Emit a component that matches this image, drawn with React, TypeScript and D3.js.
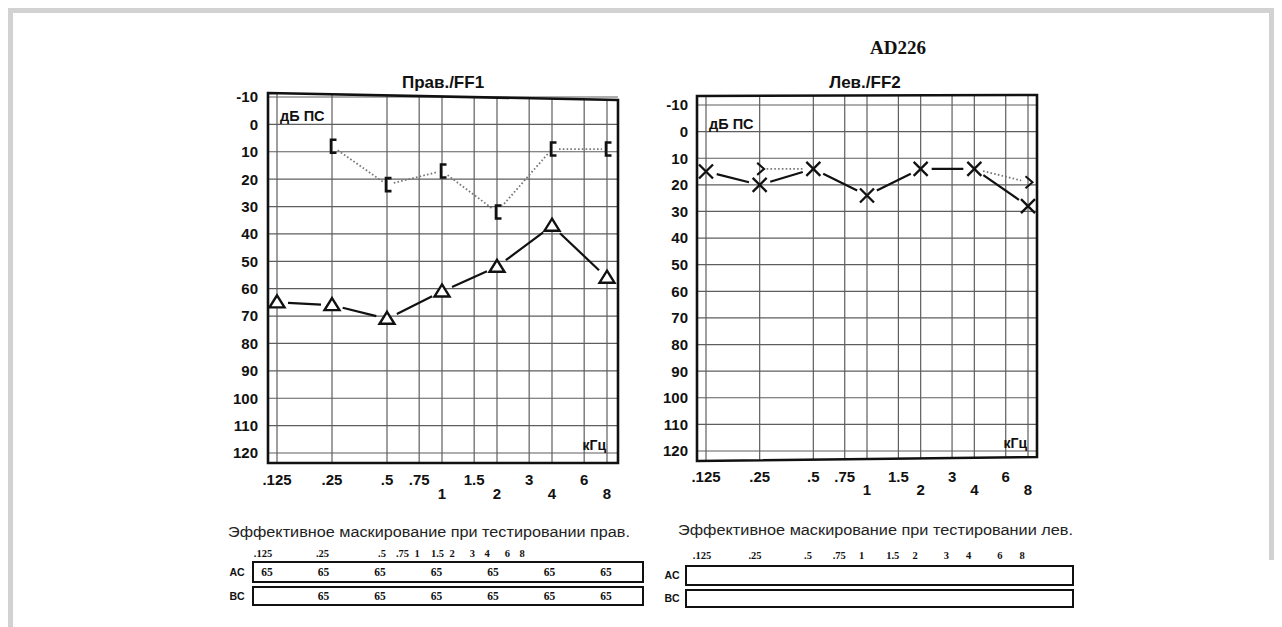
import React from "react";
import * as d3 from "d3";

// ---------- data ----------
const FREQS = [0.125, 0.25, 0.5, 0.75, 1, 1.5, 2, 3, 4, 6, 8];
const FREQ_LABELS = [".125", ".25", ".5", ".75", "1", "1.5", "2", "3", "4", "6", "8"];
const LOWER_ROW_LABELS = ["1", "2", "4", "8"];
const DB_TICKS = [-10, 0, 10, 20, 30, 40, 50, 60, 70, 80, 90, 100, 110, 120];

// Right ear (Прав./FF1)
const RIGHT_AC_FREQS = [0.125, 0.25, 0.5, 1, 2, 4, 8];
const RIGHT_AC_DB = [65, 66, 71, 61, 52, 37, 56];
const RIGHT_BC_FREQS = [0.25, 0.5, 1, 2, 4, 8];
const RIGHT_BC_DB = [8, 22, 17, 32, 9, 9];

// Left ear (Лев./FF2)
const LEFT_AC_FREQS = [0.125, 0.25, 0.5, 1, 2, 4, 8];
const LEFT_AC_DB = [15, 20, 14, 24, 14, 14, 28];
const LEFT_BC_FREQS = [0.25, 0.5, 1, 2, 4, 8];
const LEFT_BC_DB = [14, 14, 24, 14, 14, 19];

// Masking tables
const MASK_FREQS = [0.125, 0.25, 0.5, 1, 2, 4, 8];
const MASK_RIGHT_AC: (number | null)[] = [65, 65, 65, 65, 65, 65, 65];
const MASK_RIGHT_BC: (number | null)[] = [null, 65, 65, 65, 65, 65, 65];
const MASK_LEFT_AC: (number | null)[] = [null, null, null, null, null, null, null];
const MASK_LEFT_BC: (number | null)[] = [null, null, null, null, null, null, null];

const TITLE = "AD226";
const RIGHT_TITLE = "Прав./FF1";
const LEFT_TITLE = "Лев./FF2";
const RIGHT_MASK_TITLE = "Эффективное маскирование при тестировании прав.";
const LEFT_MASK_TITLE = "Эффективное маскирование при тестировании лев.";

// ---------- layout ----------
type Layout = {
  gx0: number; gx1: number; gy0: number; gy1: number;
  fl: number; fr: number; ftl: number; ftr: number; fbl: number; fbr: number;
  titleX: number; titleY: number; labelRight: number; tickY1: number; tickY2: number;
};

const RIGHT_LAYOUT: Layout = {
  gx0: 277, gx1: 607, gy0: 97, gy1: 453,
  fl: 268, fr: 618, ftl: 93, ftr: 100, fbl: 463, fbr: 463,
  titleX: 443, titleY: 82, labelRight: 258, tickY1: 480, tickY2: 494,
};
const LEFT_LAYOUT: Layout = {
  gx0: 706, gx1: 1028, gy0: 105, gy1: 451,
  fl: 697, fr: 1037, ftl: 96, ftr: 95, fbl: 461, fbr: 457,
  titleX: 865, titleY: 82, labelRight: 688, tickY1: 477, tickY2: 490,
};

type TableLayout = {
  textX: number; textW: number; textY: number;
  labX0: number; labXmid: number; labX1: number; labY: number;
  valX0: number; valX1: number;
  boxL: number; boxR: number; acT: number; acB: number; bcT: number; bcB: number;
  acLabelX: number;
};
const RIGHT_TABLE: TableLayout = {
  textX: 228, textW: 402, textY: 532,
  labX0: 263, labXmid: 382, labX1: 522, labY: 553,
  valX0: 267, valX1: 606,
  boxL: 253, boxR: 643, acT: 562, acB: 582, bcT: 587, bcB: 605,
  acLabelX: 237,
};
const LEFT_TABLE: TableLayout = {
  textX: 678, textW: 395, textY: 530,
  labX0: 702, labXmid: 808, labX1: 1022, labY: 555,
  valX0: 712, valX1: 1040,
  boxL: 686, boxR: 1073, acT: 566, acB: 585, bcT: 590, bcB: 607,
  acLabelX: 672,
};

const SANS = "'Liberation Sans', Arial, sans-serif";
const SERIF = "'Liberation Serif', 'Times New Roman', serif";

type Pt = { x: number; y: number };

function gapSegments(pts: Pt[], g0: number, g1: number) {
  const segs: string[] = [];
  for (let i = 0; i < pts.length - 1; i++) {
    const a = pts[i], b = pts[i + 1];
    const dx = b.x - a.x, dy = b.y - a.y;
    const len = Math.hypot(dx, dy);
    if (len <= g0 + g1) continue;
    const ux = dx / len, uy = dy / len;
    segs.push(`M${a.x + ux * g0},${a.y + uy * g0}L${b.x - ux * g1},${b.y - uy * g1}`);
  }
  return segs;
}

const TRI = "M0,-7L7.5,5L-7.5,5Z";
const XM = "M-7,-7L7,7M7,-7L-7,7";
const BRACKET = "M4.5,-6.5L-1,-6.5L-1,6.5L4.5,6.5";
const GT = "M-3.5,-6L3.5,0L-3.5,6";

function Audiogram({ L, title, ear }: { L: Layout; title: string; ear: "right" | "left" }) {
  const x = d3.scaleLog().base(2).domain([0.125, 8]).range([L.gx0, L.gx1]);
  const y = d3.scaleLinear().domain([-10, 120]).range([L.gy0, L.gy1]);
  const topAt = (px: number) => L.ftl + ((px - L.fl) / (L.fr - L.fl)) * (L.ftr - L.ftl);
  const botAt = (px: number) => L.fbl + ((px - L.fl) / (L.fr - L.fl)) * (L.fbr - L.fbl);
  const frame = `M${L.fl},${L.ftl}L${L.fr},${L.ftr}L${L.fr},${L.fbr}L${L.fl},${L.fbl}Z`;

  const grid = (
    <g stroke="#5e5e5e" strokeWidth={1.2} fill="none">
      {FREQS.map((f) => (
        <line key={"v" + f} x1={x(f)} x2={x(f)} y1={topAt(x(f))} y2={botAt(x(f))} />
      ))}
      {DB_TICKS.map((d) => (
        <line key={"h" + d} x1={L.fl} x2={L.fr} y1={y(d)} y2={y(d)} />
      ))}
    </g>
  );

  const yLabels = DB_TICKS.map((d) => (
    <text key={"yl" + d} x={L.labelRight} y={y(d)} dy="0.36em" textAnchor="end"
      fontFamily={SANS} fontWeight="bold" fontSize={15} fill="#111">{d}</text>
  ));

  const xLabels = FREQS.map((f, i) => {
    const lab = FREQ_LABELS[i];
    const lower = LOWER_ROW_LABELS.includes(lab);
    return (
      <text key={"xl" + f} x={x(f)} y={lower ? L.tickY2 : L.tickY1} dy="0.36em" textAnchor="middle"
        fontFamily={SANS} fontWeight="bold" fontSize={15} fill="#111">{lab}</text>
    );
  });

  let marks: React.ReactNode = null;
  if (ear === "right") {
    const ac = RIGHT_AC_FREQS.map((f, i) => ({ x: x(f), y: y(RIGHT_AC_DB[i]) }));
    const bc = RIGHT_BC_FREQS.map((f, i) => ({ x: x(f), y: y(RIGHT_BC_DB[i]) }));
    marks = (
      <g>
        <path d={gapSegments(bc, 7, 5).join("")} stroke="#777" strokeWidth={1.8}
          strokeDasharray="1.6,2.2" fill="none" />
        <path d={gapSegments(ac, 11, 11).join("")} stroke="#111" strokeWidth={2.2} fill="none" />
        {bc.map((p, i) => (
          <path key={"b" + i} d={BRACKET} transform={`translate(${p.x},${p.y})`}
            stroke="#111" strokeWidth={2.6} fill="none" />
        ))}
        {ac.map((p, i) => (
          <path key={"t" + i} d={TRI} transform={`translate(${p.x},${p.y})`}
            stroke="#111" strokeWidth={2.4} fill="#fff" strokeLinejoin="miter" />
        ))}
      </g>
    );
  } else {
    const ac = LEFT_AC_FREQS.map((f, i) => ({ x: x(f), y: y(LEFT_AC_DB[i]) }));
    const bcAll = LEFT_BC_FREQS.map((f, i) => {
      const j = LEFT_AC_FREQS.indexOf(f);
      const hidden = j >= 0 && Math.abs(LEFT_AC_DB[j] - LEFT_BC_DB[i]) < 3;
      return { x: x(f), y: y(LEFT_BC_DB[i]), hidden };
    });
    const dotted: string[] = [];
    for (let i = 0; i < bcAll.length - 1; i++) {
      const a = bcAll[i], b = bcAll[i + 1];
      if (a.hidden && b.hidden) continue;
      dotted.push(...gapSegments([a, b], a.hidden ? 9 : 7, b.hidden ? 9 : 7));
    }
    marks = (
      <g>
        <path d={dotted.join("")} stroke="#777" strokeWidth={1.8}
          strokeDasharray="1.6,2.2" fill="none" />
        <path d={gapSegments(ac, 11, 11).join("")} stroke="#111" strokeWidth={2.2} fill="none" />
        {ac.map((p, i) => (
          <path key={"x" + i} d={XM} transform={`translate(${p.x},${p.y})`}
            stroke="#111" strokeWidth={2.3} fill="none" />
        ))}
        {bcAll.filter((p) => !p.hidden).map((p, i) => (
          <path key={"g" + i} d={GT} transform={`translate(${p.x + 1},${p.y})`}
            stroke="#111" strokeWidth={2} fill="none" />
        ))}
      </g>
    );
  }

  return (
    <g>
      <text x={L.titleX} y={L.titleY} dy="0.36em" textAnchor="middle" fontFamily={SANS}
        fontWeight="bold" fontSize={17} fill="#111">{title}</text>
      {grid}
      <path d={frame} stroke="#111" strokeWidth={2.6} fill="none" />
      {yLabels}
      {xLabels}
      <text x={L.fl + 12} y={y(-3)} dy="0.36em" fontFamily={SANS} fontWeight="bold" fontSize={14.5}
        fill="#111">дБ ПС</text>
      <text x={L.gx1 - 1} y={y(117)} dy="0.36em" textAnchor="end" fontFamily={SANS} fontWeight="bold"
        fontSize={14} fill="#111">кГц</text>
      {marks}
    </g>
  );
}

function MaskTable({ T, title, ac, bc }: { T: TableLayout; title: string; ac: (number | null)[]; bc: (number | null)[] }) {
  const lx = d3.scaleLog().base(2).domain([0.125, 0.5, 8]).range([T.labX0, T.labXmid, T.labX1]);
  const vx = d3.scaleLog().base(2).domain([0.125, 8]).range([T.valX0, T.valX1]);
  return (
    <g>
      <text x={T.textX} y={T.textY} dy="0.36em" fontFamily={SANS} fontSize={14} fill="#222"
        textLength={T.textW} lengthAdjust="spacingAndGlyphs">{title}</text>
      {FREQS.map((f, i) => (
        <text key={"ml" + f} x={lx(f)} y={T.labY} dy="0.36em" textAnchor="middle" fontFamily={SERIF}
          fontWeight="bold" fontSize={10.5} fill="#111">{FREQ_LABELS[i]}</text>
      ))}
      <rect x={T.boxL} y={T.acT} width={T.boxR - T.boxL} height={T.acB - T.acT} fill="none"
        stroke="#111" strokeWidth={2} />
      <rect x={T.boxL} y={T.bcT} width={T.boxR - T.boxL} height={T.bcB - T.bcT} fill="none"
        stroke="#111" strokeWidth={2} />
      <text x={T.acLabelX} y={(T.acT + T.acB) / 2} dy="0.36em" textAnchor="middle" fontFamily={SANS}
        fontWeight="bold" fontSize={10.5} fill="#111">AC</text>
      <text x={T.acLabelX} y={(T.bcT + T.bcB) / 2} dy="0.36em" textAnchor="middle" fontFamily={SANS}
        fontWeight="bold" fontSize={10.5} fill="#111">BC</text>
      {MASK_FREQS.map((f, i) =>
        ac[i] == null ? null : (
          <text key={"ac" + f} x={vx(f)} y={(T.acT + T.acB) / 2} dy="0.36em" textAnchor="middle"
            fontFamily={SERIF} fontWeight="bold" fontSize={11.5} fill="#111">{ac[i]}</text>
        )
      )}
      {MASK_FREQS.map((f, i) =>
        bc[i] == null ? null : (
          <text key={"bc" + f} x={vx(f)} y={(T.bcT + T.bcB) / 2} dy="0.36em" textAnchor="middle"
            fontFamily={SERIF} fontWeight="bold" fontSize={11.5} fill="#111">{bc[i]}</text>
        )
      )}
    </g>
  );
}

export default function App() {
  return (
    <svg width={1282} height={627} style={{ position: "absolute", left: 0, top: 0, display: "block" }}
      xmlns="http://www.w3.org/2000/svg">
      <rect x={0} y={0} width={1282} height={627} fill="#fff" />
      <path d="M10.5,627L10.5,10.5L1271.5,10.5L1271.5,560" stroke="#d2d2d2" strokeWidth={5} fill="none" />
      <text x={898} y={47} dy="0.36em" textAnchor="middle" fontFamily={SERIF} fontWeight="bold"
        fontSize={19} fill="#111">{TITLE}</text>
      <Audiogram L={RIGHT_LAYOUT} title={RIGHT_TITLE} ear="right" />
      <Audiogram L={LEFT_LAYOUT} title={LEFT_TITLE} ear="left" />
      <MaskTable T={RIGHT_TABLE} title={RIGHT_MASK_TITLE} ac={MASK_RIGHT_AC} bc={MASK_RIGHT_BC} />
      <MaskTable T={LEFT_TABLE} title={LEFT_MASK_TITLE} ac={MASK_LEFT_AC} bc={MASK_LEFT_BC} />
    </svg>
  );
}
